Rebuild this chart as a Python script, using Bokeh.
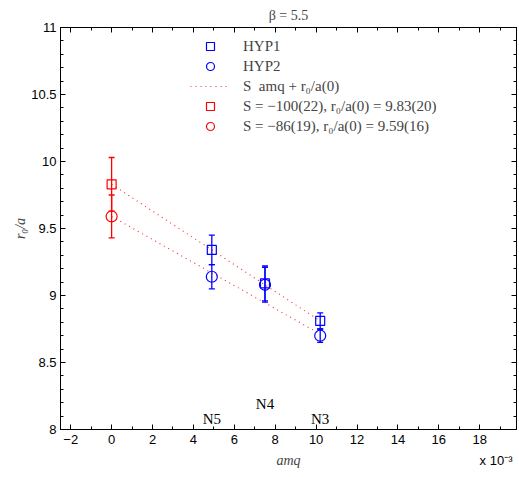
from bokeh.plotting import figure
from bokeh.models import (Range1d, LinearAxis, Whisker, TeeHead, ColumnDataSource,
                          Legend, LegendItem, Label, SingleIntervalTicker, NumeralTickFormatter,
                          CustomJSTickFormatter, FixedTicker)
from bokeh.embed import file_html
from bokeh.resources import INLINE

# ---- data (x in units of 1e-3) ----
ens_labels = ["N5", "N4", "N3"]
amq = [4.9, 7.5, 10.2]
hyp1_r0 = [9.34, 9.09, 8.81]
hyp1_err = [0.11, 0.13, 0.06]
hyp2_r0 = [9.14, 9.08, 8.70]
hyp2_err = [0.09, 0.13, 0.05]

fit_S = [-100, -86]            # slopes (per 1e-3)
fit_r0 = [9.83, 9.59]          # r0/a(0)
fit_r0_err = [0.20, 0.16]
fit_labels = ["S = \u2212100(22), r\u2080/a(0) = 9.83(20)",
              "S = \u221286(19), r\u2080/a(0) = 9.59(16)"]
fit_xmax = 10.2
x_scale_text = "x 10\u207b\u00b3"

SERIF = "Liberation Serif"
SANS = "Liberation Sans"
BLUE = "#0000ff"
RED = "#ff0000"

p = figure(width=517, height=475, output_backend="svg", toolbar_location=None,
           x_range=Range1d(-2.5, 19.8), y_range=Range1d(8, 11),
           min_border_left=60, min_border_right=1, min_border_bottom=46, min_border_top=26)
p.title.text = "\u03b2 = 5.5"
p.title.text_font = SERIF
p.title.text_font_style = "normal"
p.title.text_font_size = "14px"
p.title.align = "center"
p.title.standoff = 10
p.grid.visible = False
p.outline_line_color = "black"
p.outline_line_alpha = 1.0
p.background_fill_color = "white"
p.border_fill_color = "white"

def style_axis(ax):
    ax.axis_line_color = "black"
    ax.major_tick_in = 5
    ax.major_tick_out = 0
    ax.minor_tick_in = 3
    ax.minor_tick_out = 0
    ax.major_tick_line_color = "black"
    ax.minor_tick_line_color = "black"
    ax.major_label_text_font = SANS
    ax.major_label_text_font_size = "13px"
    ax.major_label_text_color = "black"

p.xaxis.ticker = SingleIntervalTicker(interval=2, num_minor_ticks=2)
p.yaxis.ticker = SingleIntervalTicker(interval=0.5, num_minor_ticks=5)
p.yaxis.formatter = NumeralTickFormatter(format="0.[0]")
for ax in p.xaxis + p.yaxis:
    style_axis(ax)
p.xaxis.major_label_standoff = 5
p.yaxis.major_label_standoff = 4
p.yaxis.axis_label = "r\u2080/a"
p.yaxis.axis_label_text_font = SERIF
p.yaxis.axis_label_text_font_style = "italic"
p.yaxis.axis_label_text_font_size = "14px"
p.yaxis.axis_label_standoff = 0

empty = CustomJSTickFormatter(code="return ''")
top = LinearAxis(ticker=SingleIntervalTicker(interval=2, num_minor_ticks=2), formatter=empty)
right = LinearAxis(ticker=SingleIntervalTicker(interval=0.5, num_minor_ticks=5), formatter=empty)
style_axis(top)
style_axis(right)
top.major_label_standoff = 0
right.major_label_standoff = 0
p.add_layout(top, "above")
p.add_layout(right, "right")

# second bottom axis: carries the "amq" label and the "x 10^-3" multiplier
extra = LinearAxis(ticker=FixedTicker(ticks=[18.8], minor_ticks=[]),
                   formatter=CustomJSTickFormatter(args=dict(t=x_scale_text), code="return t"))
extra.axis_line_color = None
extra.major_tick_in = 0
extra.major_tick_out = 0
extra.minor_tick_in = 0
extra.minor_tick_out = 0
extra.major_label_text_font = SANS
extra.major_label_text_font_size = "13px"
extra.major_label_text_color = "black"
extra.major_label_standoff = 6
extra.axis_label = "amq"
extra.axis_label_text_font = SERIF
extra.axis_label_text_font_style = "italic"
extra.axis_label_text_font_size = "14px"
extra.axis_label_standoff = -18
p.add_layout(extra, "below")

# ---- fit lines ----
fit_renderers = []
for S, r0 in zip(fit_S, fit_r0):
    xs = [0, fit_xmax]
    ys = [r0, r0 + S * 1e-3 * fit_xmax]
    r = p.line(xs, ys, line_color=RED, line_alpha=0.85, line_width=1.1, line_dash="1 4")
    fit_renderers.append(r)

# ---- error bars ----
def errbars(x, y, e, color):
    src = ColumnDataSource(dict(x=x, lower=[a - b for a, b in zip(y, e)],
                                upper=[a + b for a, b in zip(y, e)]))
    w = Whisker(source=src, base="x", upper="upper", lower="lower",
                line_color=color, line_width=1.3,
                upper_head=TeeHead(size=6, line_color=color, line_width=1.3),
                lower_head=TeeHead(size=6, line_color=color, line_width=1.3))
    p.add_layout(w)

errbars(amq, hyp1_r0, hyp1_err, BLUE)
errbars(amq, hyp2_r0, hyp2_err, BLUE)
errbars([0, 0], fit_r0, fit_r0_err, RED)

r_h1 = p.scatter(amq, hyp1_r0, marker="square", size=9, fill_color=None,
                 line_color=BLUE, line_width=1.2)
r_h2 = p.scatter(amq, hyp2_r0, marker="circle", size=11, fill_color=None,
                 line_color=BLUE, line_width=1.2)
r_f1 = p.scatter([0], [fit_r0[0]], marker="square", size=9, fill_color=None,
                 line_color=RED, line_width=1.2)
r_f2 = p.scatter([0], [fit_r0[1]], marker="circle", size=11, fill_color=None,
                 line_color=RED, line_width=1.2)

# ---- ensemble labels ----
ens_y = [8.08, 8.19, 8.08]
for lab, x, y in zip(ens_labels, amq, ens_y):
    p.add_layout(Label(x=x, y=y, text=lab, text_font=SERIF, text_font_size="15px",
                       text_align="center", text_baseline="middle", text_color="black"))

# ---- legend ----
legend = Legend(items=[
    LegendItem(label="HYP1", renderers=[r_h1]),
    LegendItem(label="HYP2", renderers=[r_h2]),
    LegendItem(label="S  amq + r\u2080/a(0)", renderers=[fit_renderers[0]]),
    LegendItem(label=fit_labels[0], renderers=[r_f1]),
    LegendItem(label=fit_labels[1], renderers=[r_f2]),
], location=(130, 293), margin=0, padding=0, spacing=0,
    label_height=20, glyph_height=20, glyph_width=40, label_standoff=13,
    label_text_font=SERIF, label_text_font_size="15px",
    border_line_alpha=0, background_fill_alpha=0)
p.add_layout(legend)

open("out.html", "w").write(file_html(p, INLINE))
